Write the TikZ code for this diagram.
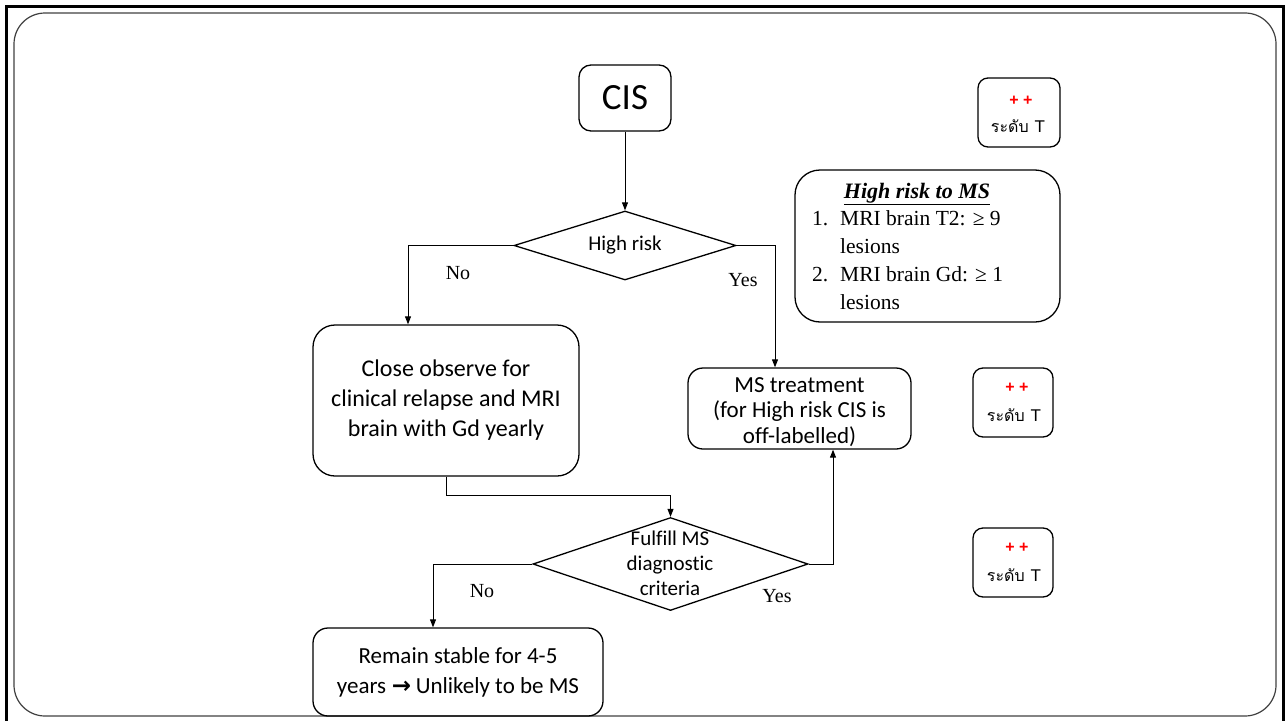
\documentclass[tikz,border=0pt]{standalone}
\usepackage{fontspec}
\setmainfont{Liberation Serif}
\newfontfamily\calibri[Ligatures={NoCommon,NoRare}]{Carlito}
\newfontfamily\arial{Liberation Sans}
\newfontfamily\thaifont[Script=Thai]{Loma}
\newfontfamily\symfont{DejaVu Sans}
\usetikzlibrary{shapes.geometric,arrows.meta}
\newcommand\fs[2]{\fontsize{#1}{#2}\selectfont}

\begin{document}
\begin{tikzpicture}[x=1pt,y=-1pt,
  flowbox/.style={draw, line width=1.3pt, align=center, inner sep=0pt, font=\calibri},
  decision/.style={draw, diamond, line width=1.3pt, inner sep=0pt},
  conn/.style={line width=1pt, -{Triangle[length=8pt,width=6pt]}},
  branch/.style={font=\fs{20}{24}},
  grade/.style={draw, line width=1.3pt, rounded corners=10pt, minimum width=80pt, minimum height=69pt, inner sep=0pt},
  plus/.style={text=red, font=\arial\bfseries\fs{16}{18}},
  gradetext/.style={font=\arial\fs{17}{20}},
  riskline/.style={anchor=base west, inner sep=0pt, font=\fs{21.5}{26}}
]
\useasboundingbox (0,0) rectangle (1287,720);

% page frame
\begin{scope}
  \clip (0,0) rectangle (1287,720);
  \draw[line width=3pt] (6.5,6.5) rectangle (1283,760);
\end{scope}
\draw[line width=1.2pt, black!75, rounded corners=31pt] (14,13) rectangle (1276,716);

% flowchart
\node[flowbox, rounded corners=12pt, minimum width=92pt, minimum height=66pt, font=\calibri\fs{37}{40}] (cis) at (625,98) {CIS};

\node[decision, minimum width=222pt, minimum height=69pt] (hr) at (625,245.5) {};
\node[font=\calibri\fs{21}{25}] (hrtext) at (hr.center) {High risk};

\node[flowbox, rounded corners=22pt, minimum width=266pt, minimum height=151pt, font=\calibri\fs{24}{30}] (close) at (446,400.5)
  {Close observe for\\clinical relapse and MRI\\brain with Gd yearly};

\node[flowbox, rounded corners=15pt, minimum width=223pt, minimum height=81pt] (ms) at (799.5,408.5) {};
\node[font=\calibri\fs{23}{25.5}, align=center] (mstext) at (799.5,412) {MS treatment\\(for High risk CIS is\\off-labelled)};

\node[decision, minimum width=275pt, minimum height=93pt] (fm) at (670.5,564) {};
\node[font=\calibri\fs{21}{25}, align=center] (fmtext) at (670,563) {Fulfill MS\\diagnostic\\criteria};

\node[flowbox, rounded corners=15pt, minimum width=290pt, minimum height=88pt, font=\calibri\fs{23}{30}] (remain) at (458,672)
  {Remain stable for 4-5\\years\hspace{0.25em}{\symfont\bfseries\fs{23}{30}→}\hspace{0.2em}Unlikely to be MS};

% connectors
\draw[conn] (cis.south) -- (hr.north);
\draw[conn] (hr.west) -| ([xshift=-38pt]close.north);
\draw[conn] (hr.east) -| ([xshift=-24.5pt]ms.north);
\draw[conn] (close.south) -- ++(0,19) -| (fm.north);
\draw[conn] (fm.east) -| ([xshift=33.5pt]ms.south);
\draw[conn] (fm.west) -| ([xshift=-25pt]remain.north);

% branch labels
\node[branch] (no1) at (458,273) {No};
\node[branch] (yes1) at (743,280) {Yes};
\node[branch] (no2) at (482,591) {No};
\node[branch] (yes2) at (777,596) {Yes};

% high risk criteria
\node[draw, line width=1.3pt, rounded corners=25pt, minimum width=265pt, minimum height=152pt] (hrms) at (927.5,246) {};
\node[anchor=base, font=\fs{22}{26}\bfseries\itshape] (hrtitle) at (917,198) {\underline{High risk to MS}};
\node[riskline] (n1) at (812,225) {1.};
\node[riskline] (t1) at (840,225) {MRI brain T2: ≥ 9};
\node[riskline] (t1b) at (840,253) {lesions};
\node[riskline] (n2) at (812,281) {2.};
\node[riskline] (t2) at (840,281) {MRI brain Gd: ≥ 1};
\node[riskline] (t2b) at (840,309) {lesions};

% evidence grades
\node[grade, minimum width=82pt] (g1) at (1019,112.5) {};
\node[plus] (g1p) at (1021,101) {+ +};
\node[gradetext] (g1t) at (1018,126) {{\thaifont\fs{16}{20}ระดับ}\hspace{6pt}T};

\node[grade] (g2) at (1013,402.5) {};
\node[plus] (g2p) at (1017,388) {+ +};
\node[gradetext] (g2t) at (1014,415) {{\thaifont\fs{16}{20}ระดับ}\hspace{6pt}T};

\node[grade] (g3) at (1013,562.5) {};
\node[plus] (g3p) at (1017,548) {+ +};
\node[gradetext] (g3t) at (1014,575) {{\thaifont\fs{16}{20}ระดับ}\hspace{6pt}T};
\end{tikzpicture}
\end{document}
